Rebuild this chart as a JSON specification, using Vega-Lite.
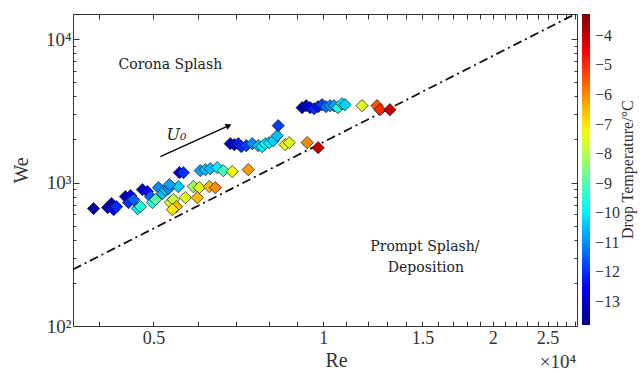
{
  "$schema": "https://vega.github.io/schema/vega-lite/v6.json",
  "width": 504,
  "height": 312,
  "autosize": {"type": "none"},
  "padding": {"left": 73, "top": 14, "right": 65, "bottom": 47},
  "background": "white",
  "config": {
    "view": {"stroke": null},
    "font": "Liberation Serif",
    "axis": {
      "grid": false,
      "domainColor": "#333333",
      "tickColor": "#333333",
      "labelColor": "#333333",
      "titleColor": "#333333",
      "labelFont": "Liberation Serif",
      "titleFont": "Liberation Serif",
      "titleFontWeight": "normal",
      "labelOverlap": false,
      "labelFlush": false
    }
  },
  "datasets": {
    "drops": [
      {"Re": 3915, "We": 659, "T": -13.5},
      {"Re": 4147, "We": 670, "T": -13.0},
      {"Re": 4215, "We": 714, "T": -13.3},
      {"Re": 4250, "We": 648, "T": -12.5},
      {"Re": 4300, "We": 680, "T": -12.0},
      {"Re": 4460, "We": 799, "T": -13.2},
      {"Re": 4555, "We": 812, "T": -12.8},
      {"Re": 4516, "We": 726, "T": -12.0},
      {"Re": 4610, "We": 761, "T": -11.5},
      {"Re": 4684, "We": 659, "T": -10.0},
      {"Re": 4741, "We": 680, "T": -9.5},
      {"Re": 4780, "We": 894, "T": -13.0},
      {"Re": 4878, "We": 866, "T": -12.5},
      {"Re": 4939, "We": 799, "T": -11.5},
      {"Re": 4980, "We": 726, "T": -9.5},
      {"Re": 5041, "We": 761, "T": -9.0},
      {"Re": 5103, "We": 923, "T": -11.0},
      {"Re": 5187, "We": 838, "T": -10.5},
      {"Re": 5251, "We": 894, "T": -10.3},
      {"Re": 5316, "We": 908, "T": -11.0},
      {"Re": 5358, "We": 726, "T": -7.5},
      {"Re": 5424, "We": 761, "T": -7.8},
      {"Re": 5491, "We": 680, "T": -6.5},
      {"Re": 5402, "We": 648, "T": -7.0},
      {"Re": 5559, "We": 1174, "T": -12.8},
      {"Re": 5651, "We": 1174, "T": -12.0},
      {"Re": 5536, "We": 938, "T": -10.3},
      {"Re": 5337, "We": 968, "T": -10.8},
      {"Re": 5697, "We": 786, "T": -7.5},
      {"Re": 5885, "We": 938, "T": -8.2},
      {"Re": 6031, "We": 923, "T": -7.5},
      {"Re": 5982, "We": 786, "T": -6.5},
      {"Re": 6282, "We": 938, "T": -6.5},
      {"Re": 6437, "We": 923, "T": -6.0},
      {"Re": 6055, "We": 1212, "T": -10.8},
      {"Re": 6181, "We": 1232, "T": -10.5},
      {"Re": 6307, "We": 1252, "T": -10.5},
      {"Re": 6490, "We": 1272, "T": -10.0},
      {"Re": 6649, "We": 1212, "T": -9.2},
      {"Re": 6899, "We": 1193, "T": -7.3},
      {"Re": 7366, "We": 1232, "T": -6.2},
      {"Re": 6843, "We": 1870, "T": -13.0},
      {"Re": 6956, "We": 1840, "T": -12.8},
      {"Re": 7071, "We": 1870, "T": -12.2},
      {"Re": 7158, "We": 1782, "T": -12.0},
      {"Re": 7306, "We": 1811, "T": -11.8},
      {"Re": 7487, "We": 1870, "T": -11.0},
      {"Re": 7671, "We": 1811, "T": -10.5},
      {"Re": 7797, "We": 1782, "T": -10.0},
      {"Re": 7893, "We": 1870, "T": -9.8},
      {"Re": 8022, "We": 1900, "T": -10.0},
      {"Re": 8154, "We": 1962, "T": -10.3},
      {"Re": 8288, "We": 2126, "T": -10.5},
      {"Re": 8323, "We": 2496, "T": -11.8},
      {"Re": 8564, "We": 1840, "T": -7.3},
      {"Re": 8705, "We": 1900, "T": -7.5},
      {"Re": 9369, "We": 1900, "T": -6.0},
      {"Re": 9796, "We": 1753, "T": -4.0},
      {"Re": 9176, "We": 3332, "T": -13.3},
      {"Re": 9330, "We": 3440, "T": -13.0},
      {"Re": 9483, "We": 3332, "T": -12.5},
      {"Re": 9638, "We": 3280, "T": -12.0},
      {"Re": 9796, "We": 3386, "T": -12.3},
      {"Re": 9956, "We": 3496, "T": -11.8},
      {"Re": 10118, "We": 3386, "T": -11.3},
      {"Re": 10283, "We": 3440, "T": -11.0},
      {"Re": 10452, "We": 3440, "T": -10.8},
      {"Re": 10623, "We": 3332, "T": -9.5},
      {"Re": 10796, "We": 3552, "T": -10.0},
      {"Re": 10929, "We": 3496, "T": -10.3},
      {"Re": 11720, "We": 3440, "T": -7.5},
      {"Re": 12459, "We": 3440, "T": -5.5},
      {"Re": 12609, "We": 3227, "T": -5.0},
      {"Re": 13134, "We": 3227, "T": -4.0}
    ],
    "threshold": [
      {"Re": 3600, "We": 248},
      {"Re": 28000, "We": 15000}
    ],
    "regimes": [
      {"Re": 5357, "We": 6640, "label": "Corona Splash"},
      {"Re": 15150, "We": 355, "label": "Prompt Splash/"},
      {"Re": 15215, "We": 254, "label": "Deposition"}
    ],
    "velocity": [
      {"Re": 5143, "We": 1518, "Re2": 6800, "We2": 2500, "label": "U₀", "Rl": 5491, "Wl": 2160}
    ],
    "multiplier": [
      {"Re": 28100, "We": 56, "label": "×10⁴"}
    ],
    "colorbar_title": [
      {"Re": 34700, "We": 1232, "label": "Drop Temperature/°C"}
    ]
  },
  "layer": [
    {
      "data": {"name": "threshold"},
      "mark": {"type": "line", "color": "#111111", "strokeWidth": 1.8, "strokeDash": [9, 4, 2, 4]},
      "encoding": {
        "x": {
          "field": "Re", "type": "quantitative",
          "scale": {"type": "log", "domain": [3600, 28200]},
          "axis": {
            "orient": "top", "labels": false, "title": null,
            "values": [4000, 5000, 6000, 7000, 8000, 9000, 10000, 11000, 12000, 13000, 14000, 15000, 16000, 17000, 18000, 19000, 20000, 21000, 22000, 23000, 24000, 25000, 26000, 27000, 28000],
            "tickSize": -5
          }
        },
        "y": {
          "field": "We", "type": "quantitative",
          "scale": {"type": "log", "domain": [100, 15000]},
          "axis": {
            "orient": "right", "labels": false, "title": null,
            "values": [100, 200, 300, 400, 500, 600, 700, 800, 900, 1000, 2000, 3000, 4000, 5000, 6000, 7000, 8000, 9000, 10000],
            "tickSize": {"condition": {"test": "datum.value == 100 || datum.value == 1000 || datum.value == 10000", "value": -6}, "value": -3}
          }
        }
      }
    },
    {
      "data": {"name": "drops"},
      "mark": {"type": "point", "shape": "diamond", "filled": true, "size": 150, "stroke": "#111111", "strokeWidth": 0.7, "opacity": 1},
      "encoding": {
        "x": {
          "field": "Re", "type": "quantitative",
          "scale": {"type": "log", "domain": [3600, 28200]},
          "axis": {
            "orient": "bottom",
            "title": "Re", "titleFontSize": 20, "titleX": 263, "titlePadding": 3,
            "values": [4000, 5000, 6000, 7000, 8000, 9000, 10000, 11000, 12000, 13000, 14000, 15000, 16000, 17000, 18000, 19000, 20000, 21000, 22000, 23000, 24000, 25000, 26000, 27000, 28000],
            "labelExpr": "indexof([5000, 10000, 15000, 20000, 25000], datum.value) >= 0 ? format(datum.value / 10000, '~g') : ''",
            "labelFontSize": 18,
            "tickSize": -5,
            "labelPadding": 8
          }
        },
        "y": {
          "field": "We", "type": "quantitative",
          "scale": {"type": "log", "domain": [100, 15000]},
          "axis": {
            "orient": "left",
            "title": "We", "titleFontSize": 20, "titlePadding": 14,
            "values": [100, 200, 300, 400, 500, 600, 700, 800, 900, 1000, 2000, 3000, 4000, 5000, 6000, 7000, 8000, 9000, 10000],
            "labelExpr": "datum.value == 100 ? '10²' : datum.value == 1000 ? '10³' : datum.value == 10000 ? '10⁴' : ''",
            "labelFontSize": 19,
            "tickSize": {"condition": {"test": "datum.value == 100 || datum.value == 1000 || datum.value == 10000", "value": -6}, "value": -3},
            "labelPadding": 8
          }
        },
        "color": {
          "field": "T", "type": "quantitative",
          "scale": {
            "domain": [-13.78, -3.26],
            "range": ["#00007f", "#0000ff", "#007fff", "#00ffff", "#7fff7f", "#ffff00", "#ff7f00", "#ff0000", "#7f0000"],
            "interpolate": "rgb"
          },
          "legend": {
            "orient": "none", "legendX": 509, "legendY": 0,
            "direction": "vertical",
            "gradientLength": 311, "gradientThickness": 8, "gradientStrokeWidth": 0,
            "values": [-4, -5, -6, -7, -8, -9, -10, -11, -12, -13],
            "labelFont": "Liberation Serif", "labelFontSize": 16, "labelColor": "#333333", "labelOffset": 5,
            "title": null
          }
        }
      }
    },
    {
      "data": {"name": "regimes"},
      "mark": {"type": "text", "font": "DejaVu Serif", "fontSize": 14, "color": "#222222", "align": "center", "baseline": "middle"},
      "encoding": {
        "x": {"field": "Re", "type": "quantitative", "scale": {"type": "log", "domain": [3600, 28200]}, "axis": null},
        "y": {"field": "We", "type": "quantitative", "scale": {"type": "log", "domain": [100, 15000]}, "axis": null},
        "text": {"field": "label"}
      }
    },
    {
      "data": {"name": "velocity"},
      "mark": {"type": "rule", "color": "#000000", "strokeWidth": 1.3},
      "encoding": {
        "x": {"field": "Re", "type": "quantitative", "scale": {"type": "log", "domain": [3600, 28200]}, "axis": null},
        "y": {"field": "We", "type": "quantitative", "scale": {"type": "log", "domain": [100, 15000]}, "axis": null},
        "x2": {"field": "Re2"},
        "y2": {"field": "We2"}
      }
    },
    {
      "data": {"name": "velocity"},
      "mark": {"type": "point", "shape": "triangle-right", "filled": true, "size": 45, "color": "#000000", "opacity": 1, "angle": -24},
      "encoding": {
        "x": {"field": "Re2", "type": "quantitative", "scale": {"type": "log", "domain": [3600, 28200]}, "axis": null},
        "y": {"field": "We2", "type": "quantitative", "scale": {"type": "log", "domain": [100, 15000]}, "axis": null}
      }
    },
    {
      "data": {"name": "velocity"},
      "mark": {"type": "text", "font": "DejaVu Serif", "fontStyle": "italic", "fontSize": 16, "color": "#222222", "align": "center", "baseline": "middle"},
      "encoding": {
        "x": {"field": "Rl", "type": "quantitative", "scale": {"type": "log", "domain": [3600, 28200]}, "axis": null},
        "y": {"field": "Wl", "type": "quantitative", "scale": {"type": "log", "domain": [100, 15000]}, "axis": null},
        "text": {"field": "label"}
      }
    },
    {
      "data": {"name": "multiplier"},
      "mark": {"type": "text", "font": "Liberation Serif", "fontSize": 19, "color": "#333333", "align": "right", "baseline": "middle"},
      "encoding": {
        "x": {"field": "Re", "type": "quantitative", "scale": {"type": "log", "domain": [3600, 28200]}, "axis": null},
        "y": {"field": "We", "type": "quantitative", "scale": {"type": "log", "domain": [100, 15000]}, "axis": null},
        "text": {"field": "label"}
      }
    },
    {
      "data": {"name": "colorbar_title"},
      "mark": {"type": "text", "font": "Liberation Serif", "fontSize": 16, "color": "#333333", "align": "center", "baseline": "middle", "angle": 270},
      "encoding": {
        "x": {"field": "Re", "type": "quantitative", "scale": {"type": "log", "domain": [3600, 28200]}, "axis": null},
        "y": {"field": "We", "type": "quantitative", "scale": {"type": "log", "domain": [100, 15000]}, "axis": null},
        "text": {"field": "label"}
      }
    }
  ],
  "resolve": {"axis": {"x": "independent", "y": "independent"}}
}
